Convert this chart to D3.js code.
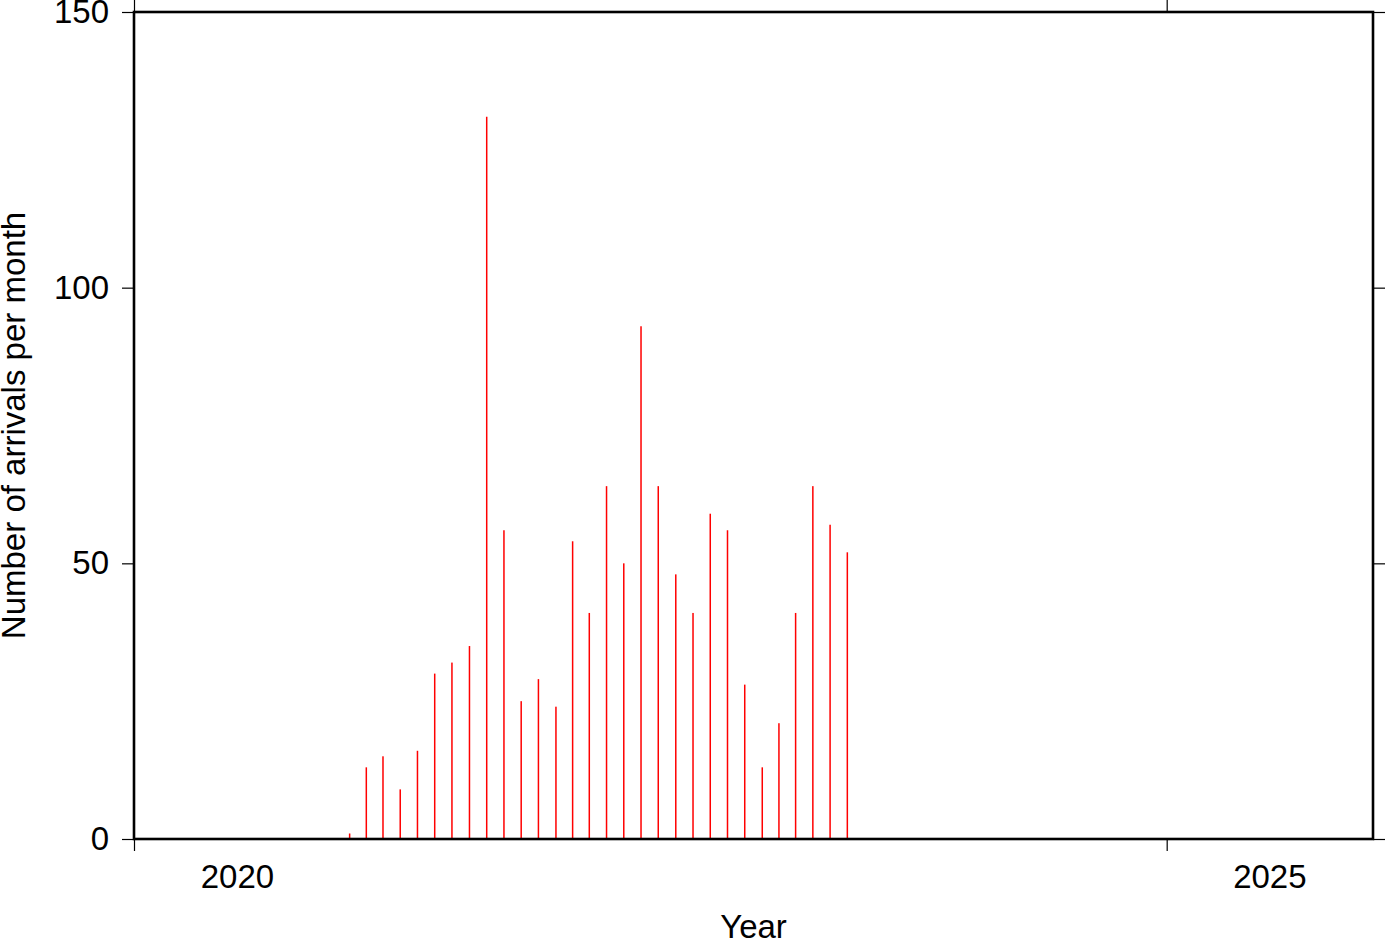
<!DOCTYPE html>
<html>
<head>
<meta charset="utf-8">
<script src="https://cdn.jsdelivr.net/npm/d3@7"></script>
<style>
  html, body { margin: 0; padding: 0; background: #fff; }
  svg { display: block; }
  text { font-family: "Liberation Sans", Arial, Helvetica, sans-serif; fill: #000; }
</style>
</head>
<body>
<svg id="chart" width="1387" height="942"></svg>
<script>
// ---- data ----
const months = [
  "2021-01","2021-02","2021-03","2021-04","2021-05","2021-06","2021-07","2021-08","2021-09","2021-10","2021-11","2021-12",
  "2022-01","2022-02","2022-03","2022-04","2022-05","2022-06","2022-07","2022-08","2022-09","2022-10","2022-11","2022-12",
  "2023-01","2023-02","2023-03","2023-04","2023-05","2023-06"
];
const arrivals = [
  1, 13, 15, 9, 16, 30, 32, 35, 131, 56, 25, 29,
  24, 54, 41, 64, 50, 93, 64, 48, 41, 59, 56, 28,
  13, 21, 41, 64, 57, 52
];
const yTicks = [0, 50, 100, 150];
const xTickYears = [2020, 2025];
const xLabel = "Year";
const yLabel = "Number of arrivals per month";

// ---- layout ----
(function () {
const svg = d3.select("#chart");
const pl = 134, pr = 1373, pt = 12, pb = 839;

const x = d3.scaleTime()
  .domain([new Date(2020, 0, 1), new Date(2026, 0, 1)])
  .range([pl, pr]);
const y = d3.scaleLinear().domain([0, 150]).range([pb, pt]);

const parse = d3.timeParse("%Y-%m");
const midMonth = s => {
  const a = parse(s);
  const b = d3.timeMonth.offset(a, 1);
  return new Date((a.getTime() + b.getTime()) / 2);
};

// bars
svg.append("g").selectAll("rect")
  .data(months.map((m, i) => ({ d: midMonth(m), v: arrivals[i] })))
  .join("rect")
  .attr("x", d => x(d.d) - 0.75)
  .attr("width", 1.5)
  .attr("y", d => y(d.v))
  .attr("height", d => y(0) - y(d.v))
  .attr("fill", "#ff0000");

// axes with ticks
const fontSize = 33;
const yAxisL = d3.axisLeft(y).tickValues(yTicks).tickSize(12).tickPadding(13).tickFormat(d3.format("d"));
const gL = svg.append("g").attr("transform", `translate(${pl},0)`).call(yAxisL);
const yAxisR = d3.axisRight(y).tickValues(yTicks).tickSize(12).tickFormat("");
const gR = svg.append("g").attr("transform", `translate(${pr},0)`).call(yAxisR);

const xTickDates = xTickYears.map(yr => new Date(yr, 0, 1));
const xAxisB = d3.axisBottom(x).tickValues(xTickDates).tickSize(12).tickFormat("");
const gB = svg.append("g").attr("transform", `translate(0,${pb})`).call(xAxisB);
const xAxisT = d3.axisTop(x).tickValues(xTickDates).tickSize(12).tickFormat("");
const gT = svg.append("g").attr("transform", `translate(0,${pt})`).call(xAxisT);

[gL, gR, gB, gT].forEach(g => {
  g.select(".domain").remove();
  g.selectAll(".tick line").attr("stroke", "#000").attr("stroke-width", 1.2);
});
gL.selectAll(".tick text")
  .style("font-size", fontSize + "px")
  .style("font-family", "'Liberation Sans', Arial, sans-serif")
  .attr("fill", "#000");

// x year labels centered in each year interval
svg.append("g").selectAll("text")
  .data(xTickYears)
  .join("text")
  .attr("x", yr => (x(new Date(yr, 0, 1)) + x(new Date(yr + 1, 0, 1))) / 2)
  .attr("y", 888)
  .attr("text-anchor", "middle")
  .style("font-size", fontSize + "px")
  .text(yr => yr);

// frame
svg.append("rect")
  .attr("x", pl).attr("y", pt)
  .attr("width", pr - pl).attr("height", pb - pt)
  .attr("fill", "none").attr("stroke", "#000").attr("stroke-width", 2.6);

// axis titles
svg.append("text")
  .attr("x", (pl + pr) / 2)
  .attr("y", 938)
  .attr("text-anchor", "middle")
  .style("font-size", fontSize + "px")
  .text(xLabel);

svg.append("text")
  .attr("transform", `translate(25,${(pt + pb) / 2}) rotate(-90)`)
  .attr("text-anchor", "middle")
  .style("font-size", fontSize + "px")
  .text(yLabel);
})();
</script>
</body>
</html>
